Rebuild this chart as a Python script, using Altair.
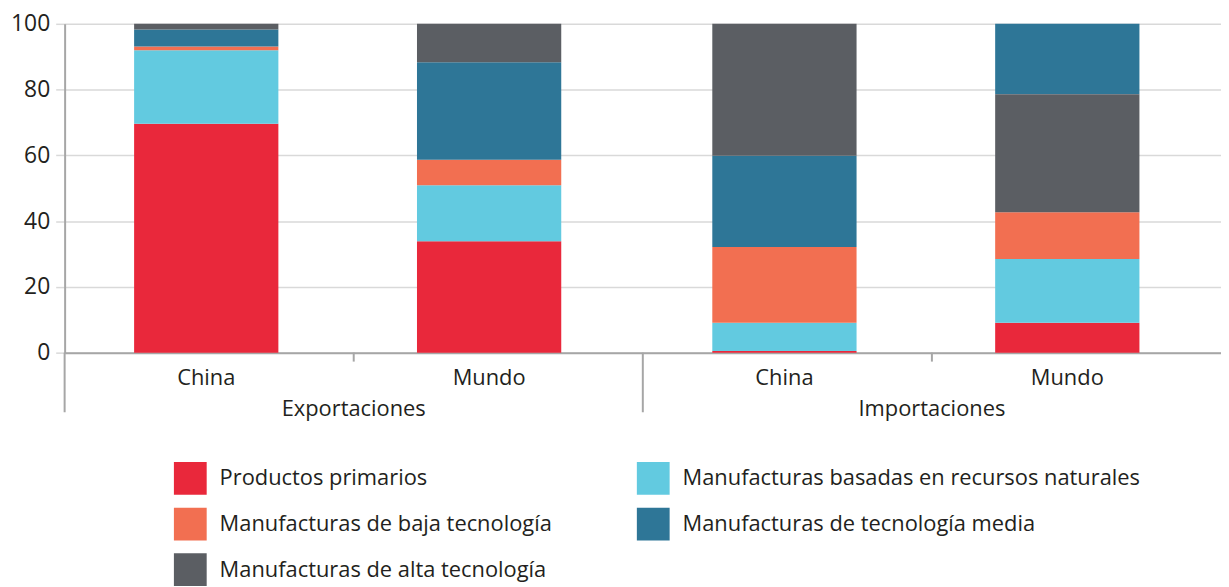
import altair as alt
import pandas as pd

groups = ["Exportaciones", "Exportaciones", "Importaciones", "Importaciones"]
countries = ["China", "Mundo", "China", "Mundo"]
categories = [
    "Productos primarios",
    "Manufacturas basadas en recursos naturales",
    "Manufacturas de baja tecnología",
    "Manufacturas de tecnología media",
    "Manufacturas de alta tecnología",
]
colors = ["#E9283B", "#62CAE0", "#F26F51", "#2E7697", "#5B5E63"]
# legend order (fills column by column)
legend_order = [0, 2, 4, 1, 3]

# share (%) per bar, in category order above
primarios = [69.6, 33.9, 0.5, 9.1]
basadas = [22.4, 17.0, 8.6, 19.4]
baja = [1.1, 7.8, 23.0, 14.2]
media = [5.2, 29.6, 27.8, 21.4]
alta = [1.7, 11.7, 40.1, 35.9]
# stacking rank (bottom = 1) of each category in each bar
rank_media = [4, 4, 4, 5]
rank_alta = [5, 5, 5, 4]

series = [primarios, basadas, baja, media, alta]
rows = []
for i in range(4):
    ranks = [1, 2, 3, rank_media[i], rank_alta[i]]
    for c, cat in enumerate(categories):
        rows.append({"grupo": groups[i], "pais": countries[i], "cat": cat,
                     "valor": series[c][i], "rango": ranks[c]})
df = pd.DataFrame(rows)
bars_df = pd.DataFrame({"grupo": groups, "pais": countries})
grp_df = pd.DataFrame({"grupo": ["Exportaciones", "Importaciones"]})

dom = [categories[k] for k in legend_order]
rng = [colors[k] for k in legend_order]

FONT = "Open Sans"
TXT = "#231F20"
W, H = 1164, 331
FS = 22

xscale = alt.Scale(paddingInner=0, paddingOuter=0)
xoff_scale = alt.Scale(paddingInner=0.49, paddingOuter=0.267, align=0.46)
gsort = ["Exportaciones", "Importaciones"]

bars = alt.Chart(df).mark_bar().encode(
    x=alt.X("grupo:N", scale=xscale, sort=gsort,
            axis=alt.Axis(title=None, labelAngle=0, ticks=False, labelPadding=46,
                          labelFontSize=FS, labelColor=TXT, labelFont=FONT,
                          domainColor="#A6A6A6", domainWidth=2, grid=False)),
    xOffset=alt.XOffset("pais:N", scale=xoff_scale, sort=["China", "Mundo"]),
    y=alt.Y("valor:Q", stack="zero",
            scale=alt.Scale(domain=[0, 100], nice=False),
            axis=alt.Axis(title=None, values=[0, 20, 40, 60, 80, 100],
                          labelFontSize=23, labelColor=TXT, labelFont=FONT,
                          labelPadding=6, tickSize=9, tickColor="#D9D9D9", tickWidth=1.5,
                          gridColor="#D9D9D9", gridWidth=1.5,
                          domainColor="#A6A6A6", domainWidth=2)),
    color=alt.Color("cat:N", sort=dom,
                    scale=alt.Scale(domain=dom, range=rng),
                    legend=alt.Legend(title=None, orient="none", legendX=110, legendY=441,
                                      columns=2, columnPadding=85, rowPadding=13,
                                      symbolType="square", symbolSize=1089,
                                      symbolStrokeWidth=0, labelOffset=13,
                                      labelFontSize=FS, labelFont=FONT, labelColor=TXT,
                                      labelLimit=600, padding=0)),
    order=alt.Order("rango:Q", sort="ascending"),
)

labels = alt.Chart(bars_df).mark_text(fontSize=FS, font=FONT, color=TXT, baseline="middle").encode(
    x=alt.X("grupo:N", scale=xscale, sort=gsort),
    xOffset=alt.XOffset("pais:N", scale=xoff_scale, sort=["China", "Mundo"]),
    y=alt.value(H + 26),
    text="pais:N",
)

seps = alt.Chart(grp_df).mark_rule(color="#A6A6A6", strokeWidth=2).encode(
    x=alt.X("grupo:N", bandPosition=0, scale=xscale, sort=gsort),
    y=alt.value(H),
    y2=alt.value(H + 60),
)

mids = alt.Chart(grp_df).mark_rule(color="#A6A6A6", strokeWidth=2).encode(
    x=alt.X("grupo:N", bandPosition=0.5, scale=xscale, sort=gsort),
    y=alt.value(H),
    y2=alt.value(H + 9),
)

chart = alt.layer(bars, labels, seps, mids).properties(
    width=W, height=H,
    autosize=alt.AutoSizeParams(type="none"),
    padding={"left": 57, "top": 14, "right": 0, "bottom": 240},
).configure_view(stroke=None)

chart.save("out.html", embed_options={"renderer": "svg", "actions": False})
